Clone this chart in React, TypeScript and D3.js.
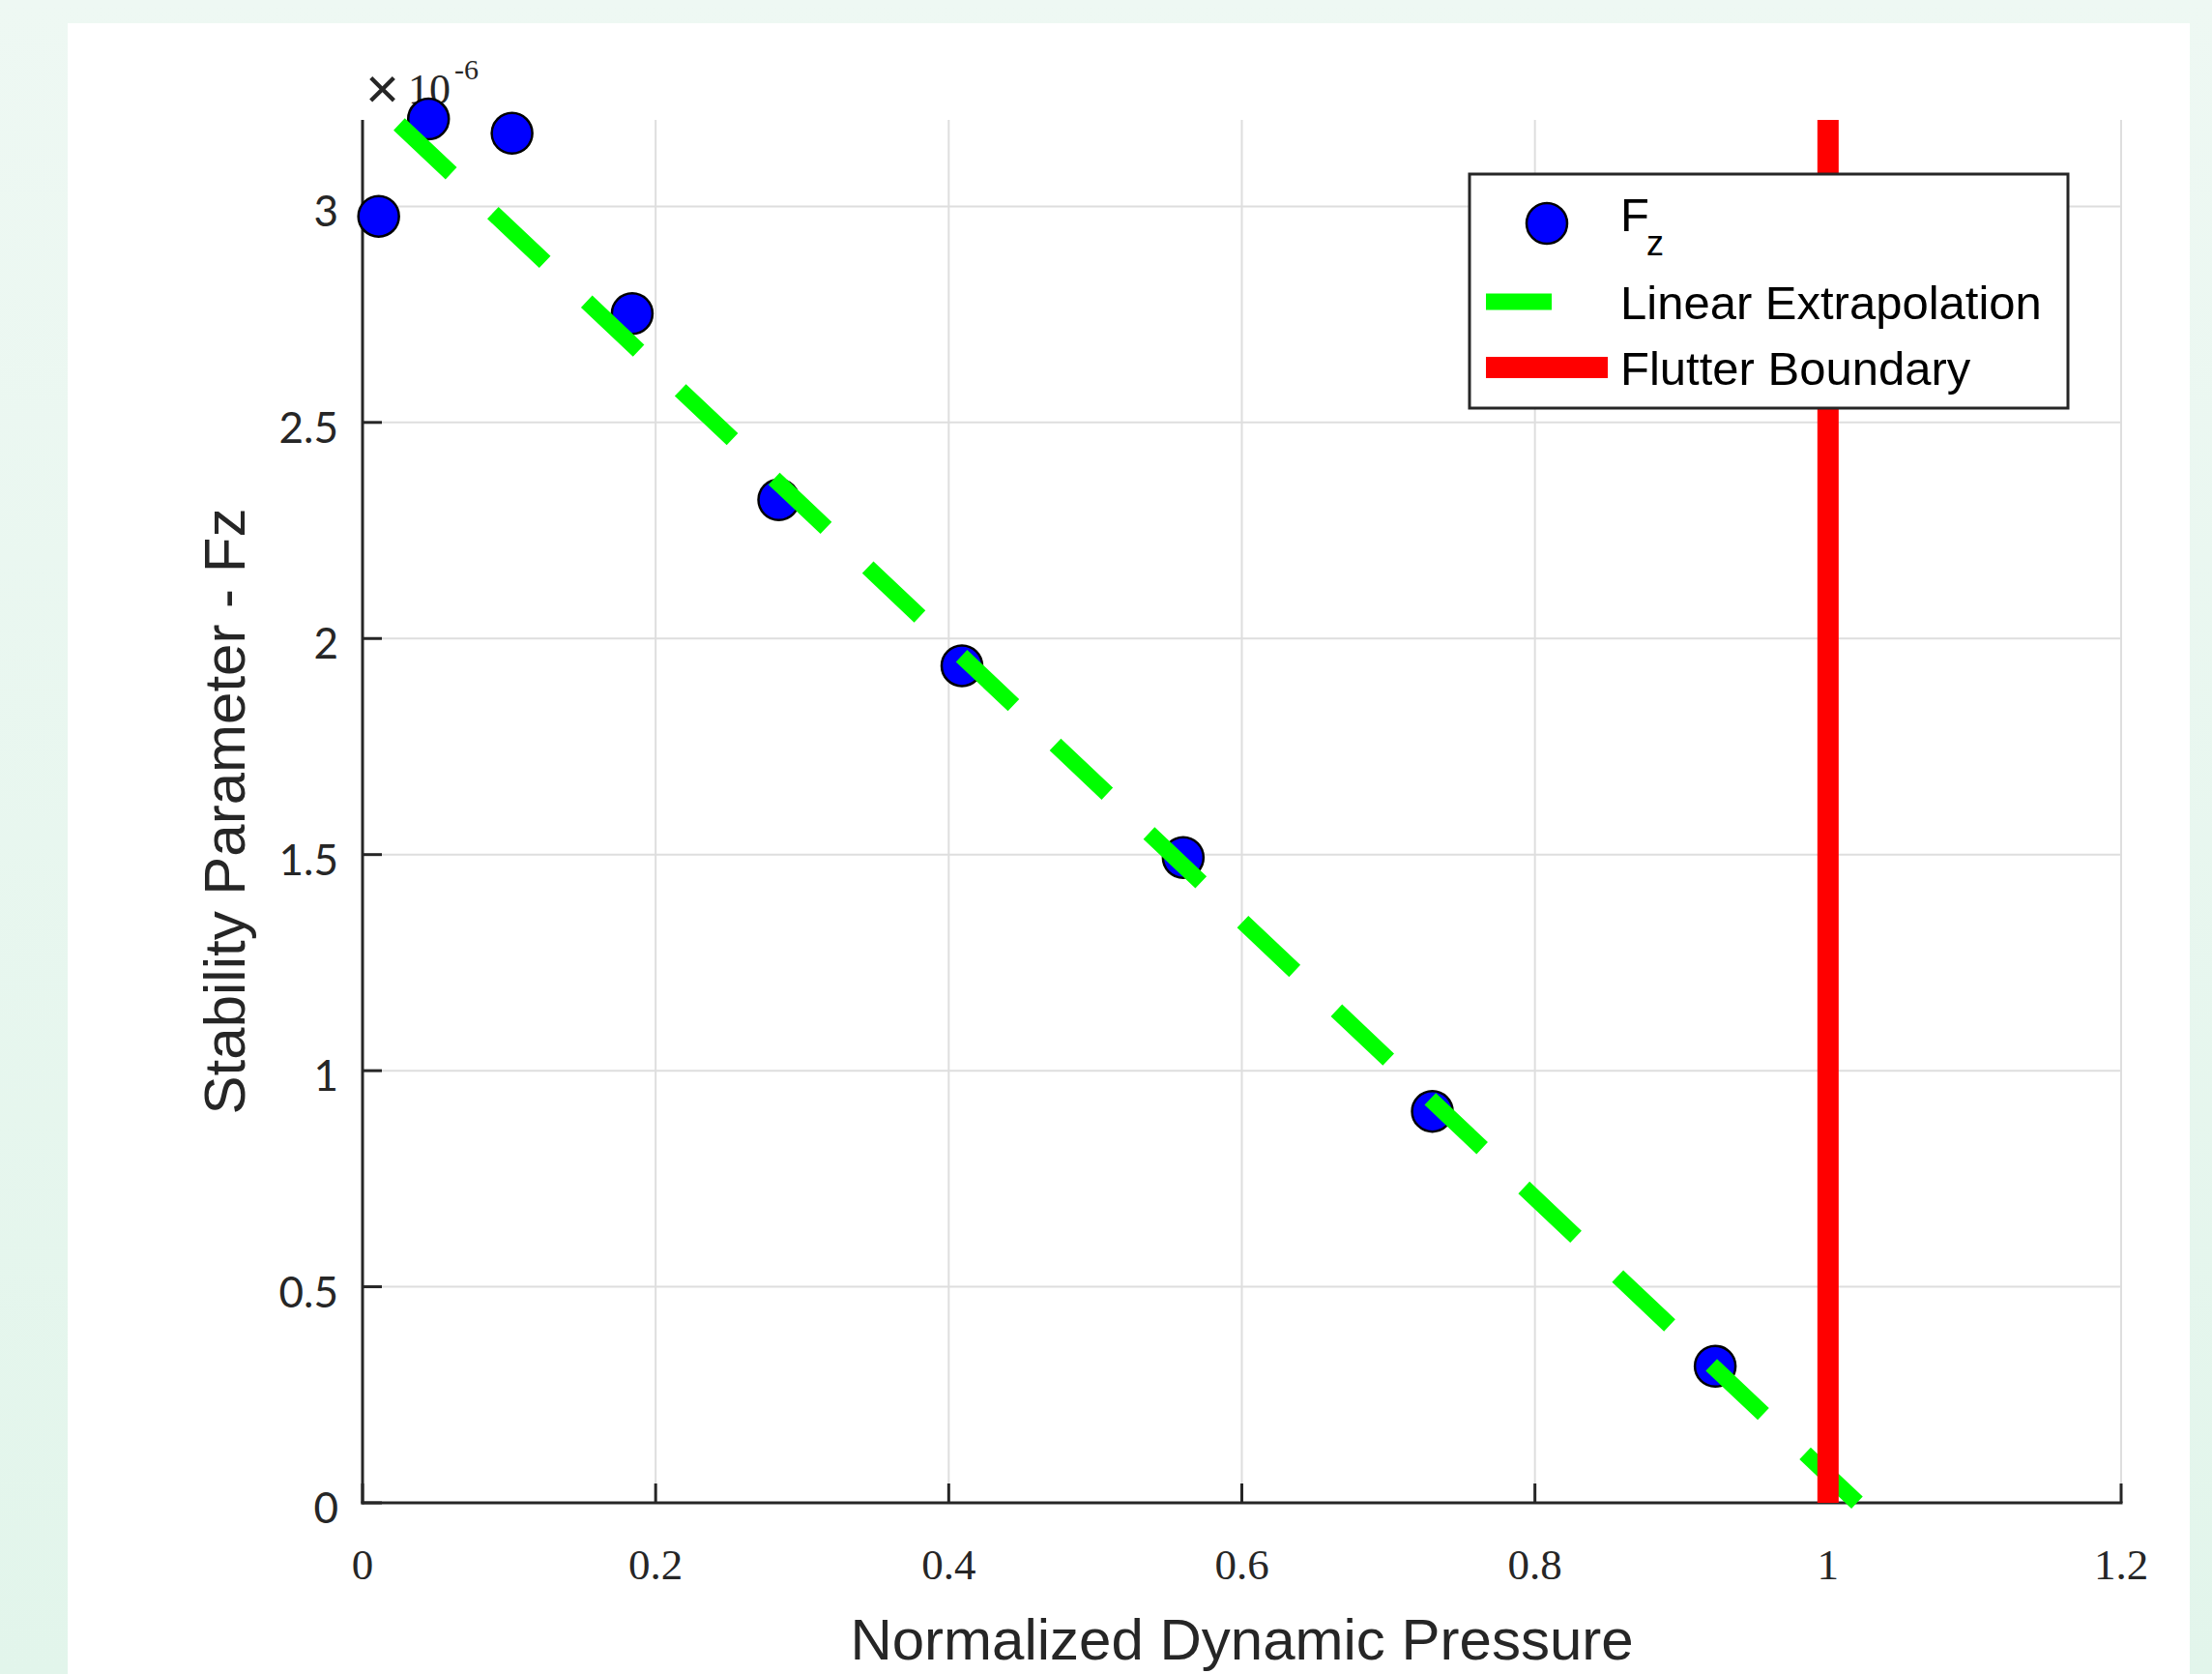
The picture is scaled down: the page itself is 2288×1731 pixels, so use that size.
import React, { useEffect } from 'react'
import * as d3 from 'd3'

// measured points (x = normalized dynamic pressure, y = Fz in 1e-6)
const pressure = [0.011, 0.045, 0.102, 0.184, 0.284, 0.409, 0.56, 0.73, 0.923]
const fz = [2.977, 3.202, 3.169, 2.752, 2.321, 1.937, 1.493, 0.906, 0.316]

// linear extrapolation endpoints
const fitX = [0.025, 1.02]
const fitY = [3.19, 0.0]

const flutterX = 1.0

const xTicks = [0, 0.2, 0.4, 0.6, 0.8, 1, 1.2]
const yTicks = [0, 0.5, 1, 1.5, 2, 2.5, 3]

const W = 2288
const H = 1731
const margin = { top: 124, right: 94, bottom: 177, left: 375 }

export default function App() {
  useEffect(() => {
    document.body.style.margin = '0'
  }, [])

  const x = d3.scaleLinear().domain([0, 1.2]).range([margin.left, W - margin.right])
  const y = d3.scaleLinear().domain([0, 3.2]).range([H - margin.bottom, margin.top])
  const x0 = x(0), x1 = x(1.2), y0 = y(0), yTop = y(3.2)

  const line = d3.line<number>().x((d, i) => x(fitX[i])).y((d, i) => y(fitY[i]))
  const axisColor = '#262626'
  const tickLen = 20

  return (
    <svg width={W} height={H} style={{ display: 'block' }}>
      <defs>
        <linearGradient id="bg" x1="0" y1="0" x2="0" y2="1">
          <stop offset="0" stopColor="#eef8f3" />
          <stop offset="1" stopColor="#e2f5eb" />
        </linearGradient>
      </defs>
      <rect x={0} y={0} width={W} height={H} fill="url(#bg)" />
      <rect x={70} y={24} width={2195} height={H - 24} fill="#ffffff" />

      {/* grid */}
      {xTicks.filter(t => t > 0).map(t => (
        <line key={'gx' + t} x1={x(t)} x2={x(t)} y1={yTop} y2={y0} stroke="#dedede" strokeWidth={2} />
      ))}
      {yTicks.filter(t => t > 0).map(t => (
        <line key={'gy' + t} x1={x0} x2={x1} y1={y(t)} y2={y(t)} stroke="#dedede" strokeWidth={2} />
      ))}

      {/* axes */}
      <line x1={x0} x2={x0} y1={yTop} y2={y0 + 1.5} stroke={axisColor} strokeWidth={3} />
      <line x1={x0 - 1.5} x2={x1 + 1.5} y1={y0} y2={y0} stroke={axisColor} strokeWidth={3} />
      {xTicks.map(t => (
        <g key={'tx' + t}>
          <line x1={x(t)} x2={x(t)} y1={y0} y2={y0 - tickLen} stroke={axisColor} strokeWidth={3} />
          <text x={x(t)} y={y0 + 79} textAnchor="middle" fontFamily="Liberation Serif" fontSize={45} fill={axisColor}>
            {t}
          </text>
        </g>
      ))}
      {yTicks.map(t => (
        <g key={'ty' + t}>
          <line x1={x0} x2={x0 + tickLen} y1={y(t)} y2={y(t)} stroke={axisColor} strokeWidth={3} />
          <text x={x0 - 25} y={y(t) + 21} textAnchor="end" fontFamily="Lato" fontSize={44} fill={axisColor}>
            {t}
          </text>
        </g>
      ))}

      {/* exponent */}
      <text x={378} y={112} fontFamily="Liberation Sans" fontSize={60} fill={axisColor}>×</text>
      <text x={422} y={107} fontFamily="Liberation Serif" fontSize={44} fill={axisColor}>10</text>
      <text x={470} y={82} fontFamily="Liberation Serif" fontSize={30} fill={axisColor}>-6</text>

      {/* markers */}
      {pressure.map((p, i) => (
        <circle key={'m' + i} cx={x(p)} cy={y(fz[i])} r={21} fill="#0000ff" stroke="#000" strokeWidth={2.5} />
      ))}

      {/* linear extrapolation */}
      <path d={line(fitX) || ''} fill="none" stroke="#00ff00" strokeWidth={17} strokeDasharray="74 59.4" />

      {/* flutter boundary */}
      <line x1={x(flutterX)} x2={x(flutterX)} y1={y0} y2={yTop} stroke="#ff0000" strokeWidth={22} />

      {/* axis labels */}
      <text x={(x0 + x1) / 2} y={1716} textAnchor="middle" fontFamily="Liberation Sans" fontSize={60} fill={axisColor}>
        Normalized Dynamic Pressure
      </text>
      <text transform={`translate(253, ${(y0 + yTop) / 2}) rotate(-90)`} textAnchor="middle" fontFamily="Liberation Sans" fontSize={60} fill={axisColor}>
        Stability Parameter - Fz
      </text>

      {/* legend */}
      <g>
        <rect x={1520} y={180} width={619} height={242} fill="#fff" stroke={axisColor} strokeWidth={3} />
        <circle cx={1600} cy={231} r={21} fill="#0000ff" stroke="#000" strokeWidth={2.5} />
        <text x={1676} y={239} fontFamily="Liberation Sans" fontSize={49} fill="#000">F</text>
        <text x={1703} y={264} fontFamily="Liberation Sans" fontSize={36} fill="#000">z</text>
        <line x1={1537} x2={1605} y1={312} y2={312} stroke="#00ff00" strokeWidth={17} />
        <text x={1676} y={330} fontFamily="Liberation Sans" fontSize={49} fill="#000">Linear Extrapolation</text>
        <line x1={1537} x2={1663} y1={380} y2={380} stroke="#ff0000" strokeWidth={22} />
        <text x={1676} y={398} fontFamily="Liberation Sans" fontSize={49} fill="#000">Flutter Boundary</text>
      </g>
    </svg>
  )
}
